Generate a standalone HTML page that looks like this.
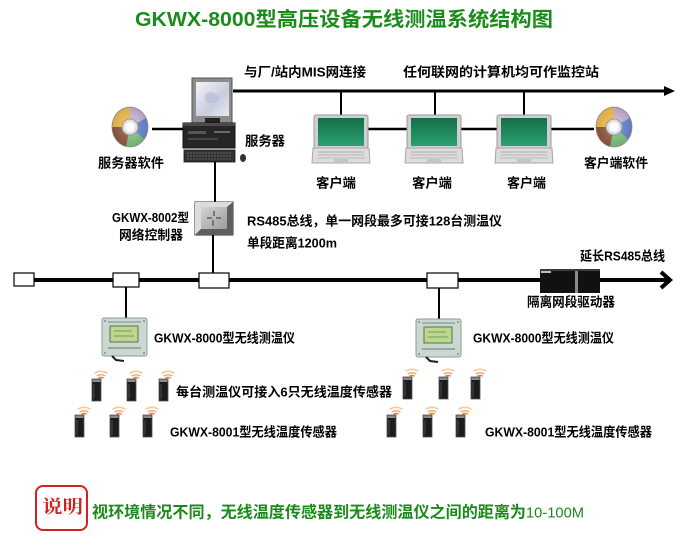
<!DOCTYPE html>
<html><head><meta charset="utf-8"><style>
html,body{margin:0;padding:0;background:#fff;}
svg{display:block;}
text{font-family:"Liberation Sans","Noto Sans CJK SC",sans-serif;font-weight:bold;dominant-baseline:central;}
</style></head><body>
<svg width="686" height="547" viewBox="0 0 686 547" xmlns="http://www.w3.org/2000/svg">
<defs>
  <radialGradient id="cdg" cx="50%" cy="50%" r="50%">
    <stop offset="0" stop-color="#ffffff"/>
    <stop offset="0.5" stop-color="#d8d8d8"/>
    <stop offset="1" stop-color="#9a9a9a"/>
  </radialGradient>
  <linearGradient id="scr" x1="0" y1="0" x2="0" y2="1">
    <stop offset="0" stop-color="#156f49"/>
    <stop offset="1" stop-color="#2aa070"/>
  </linearGradient>
  <linearGradient id="mon" x1="0" y1="0" x2="1" y2="1">
    <stop offset="0" stop-color="#f4f4f8"/>
    <stop offset="0.6" stop-color="#c8cce0"/>
    <stop offset="1" stop-color="#e8eaf2"/>
  </linearGradient>
  <linearGradient id="ctl" x1="0" y1="0" x2="1" y2="1">
    <stop offset="0" stop-color="#d4d4d4"/>
    <stop offset="1" stop-color="#9c9c9c"/>
  </linearGradient>
  <g id="cd">
    <ellipse cx="0" cy="0" rx="18" ry="20" fill="url(#cdg)"/>
    <path d="M0,0 L-18,0 A18,20 0 0 1 0,-20 Z" fill="#f0b030" opacity="0.75"/>
    <path d="M0,0 L0,-20 A18,20 0 0 1 16,-9 Z" fill="#c0a0d0" opacity="0.6"/>
    <path d="M0,0 L16,-9 A18,20 0 0 1 14,12 Z" fill="#4a70c8" opacity="0.75"/>
    <path d="M0,0 L14,12 A18,20 0 0 1 -4,19.5 Z" fill="#60b860" opacity="0.7"/>
    <path d="M0,0 L-4,19.5 A18,20 0 0 1 -18,0 Z" fill="#7a3010" opacity="0.7"/>
    <ellipse cx="0" cy="0" rx="18" ry="20" fill="none" stroke="#888" stroke-width="0.8"/>
    <circle cx="0" cy="0" r="8" fill="#e0e0e0" stroke="#999" stroke-width="1"/>
    <circle cx="0" cy="0" r="5" fill="#fff"/>
  </g>
  <g id="laptop">
    <rect x="0" y="0" width="54" height="33" rx="2" fill="#cfcfcf" stroke="#9a9a9a" stroke-width="1"/>
    <rect x="4" y="3" width="46" height="28" fill="url(#scr)"/>
    <path d="M-1,33 L55,33 L56,48 L-2,48 Z" fill="#dcdcdc" stroke="#a8a8a8" stroke-width="1"/>
    <line x1="4" y1="37" x2="50" y2="37" stroke="#b0b0b0" stroke-width="1"/>
    <line x1="4" y1="40" x2="50" y2="40" stroke="#b8b8b8" stroke-width="1"/>
    <line x1="3" y1="43" x2="51" y2="43" stroke="#bcbcbc" stroke-width="1"/>
    <rect x="20" y="44" width="14" height="3" fill="#c4c4c4"/>
  </g>
  <g id="sensor">
    <path d="M2.6,-5.6 A11,11 0 0 1 15.4,-5.6" fill="none" stroke="#f4caa0" stroke-width="1.6"/>
    <path d="M4.7,-3 A8,8 0 0 1 13.3,-3" fill="none" stroke="#ecae70" stroke-width="1.6"/>
    <path d="M6.4,-0.8 A5,5 0 0 1 11.6,-0.8" fill="none" stroke="#e08a30" stroke-width="1.6"/>
    <rect x="0" y="0" width="9" height="22" fill="#1c1c1c" stroke="#555" stroke-width="0.8"/>
    <rect x="0.5" y="0.5" width="8" height="2.5" fill="#8a8a8a"/>
    <line x1="2" y1="5" x2="2" y2="20" stroke="#4a4a4a" stroke-width="1"/>
  </g>
  <g id="device">
    <rect x="0" y="0" width="45" height="38" rx="2" fill="#cbd8cf" stroke="#8aa092" stroke-width="1"/>
    <line x1="6" y1="4" x2="39" y2="4" stroke="#8a9a90" stroke-width="1.2"/>
    <rect x="8" y="8" width="28" height="16" fill="#bcd88c" stroke="#55705a" stroke-width="1"/>
    <line x1="12" y1="13" x2="30" y2="13" stroke="#7a9a60" stroke-width="1"/>
    <line x1="12" y1="18" x2="32" y2="18" stroke="#7a9a60" stroke-width="1"/>
    <line x1="6" y1="30" x2="39" y2="30" stroke="#7a8a80" stroke-width="1.2"/>
    <circle cx="3" cy="3" r="1" fill="#889"/>
    <circle cx="42" cy="3" r="1" fill="#889"/>
    <circle cx="3" cy="35" r="1" fill="#889"/>
    <circle cx="42" cy="35" r="1" fill="#889"/>
    <path d="M10,38 L14,42 L22,43" fill="none" stroke="#222" stroke-width="2"/>
  </g>
</defs>

<!-- Title -->
<text x="135" y="20" font-size="20" fill="#1b8c1b" textLength="418" lengthAdjust="spacingAndGlyphs">GKWX-8000型高压设备无线测温系统结构图</text>

<!-- top network line -->
<line x1="233" y1="91" x2="666" y2="91" stroke="#000" stroke-width="3"/>
<polygon points="675,91 664,86 664,96" fill="#000"/>
<line x1="341" y1="91" x2="341" y2="115" stroke="#000" stroke-width="2"/>
<line x1="435" y1="91" x2="435" y2="115" stroke="#000" stroke-width="2"/>
<line x1="524" y1="91" x2="524" y2="115" stroke="#000" stroke-width="2"/>
<line x1="368" y1="129" x2="407" y2="129" stroke="#000" stroke-width="2.5"/>
<line x1="460" y1="129" x2="498" y2="129" stroke="#000" stroke-width="2.5"/>
<line x1="551" y1="129" x2="594" y2="129" stroke="#000" stroke-width="2.5"/>
<line x1="152" y1="129" x2="183" y2="129" stroke="#000" stroke-width="2.5"/>

<text x="244" y="72" font-size="13" fill="#000" textLength="122" lengthAdjust="spacingAndGlyphs">与厂/站内MIS网连接</text>
<text x="403" y="72" font-size="13" fill="#000" textLength="196" lengthAdjust="spacingAndGlyphs">任何联网的计算机均可作监控站</text>

<!-- CDs -->
<use href="#cd" x="130" y="127"/>
<use href="#cd" x="614" y="127"/>
<text x="98" y="163" font-size="13" fill="#000" textLength="66" lengthAdjust="spacingAndGlyphs">服务器软件</text>
<text x="584" y="163" font-size="13" fill="#000" textLength="64" lengthAdjust="spacingAndGlyphs">客户端软件</text>

<!-- Server -->
<rect x="192" y="78" width="40" height="45" fill="#8c8c8c" stroke="#555" stroke-width="1"/>
<rect x="196" y="82" width="33" height="34" fill="url(#mon)"/>
<path d="M205,95 Q212,88 220,98 Q214,106 206,102 Z" fill="#b8bcd4" opacity="0.7"/>
<rect x="205" y="118" width="15" height="8" fill="#222"/>
<rect x="183" y="123" width="52" height="25" fill="#262626" stroke="#111" stroke-width="1"/>
<rect x="183" y="123" width="52" height="3" fill="#4a4a4a"/>
<rect x="188" y="131" width="18" height="3" fill="#555"/>
<rect x="188" y="138" width="30" height="2" fill="#444"/>
<rect x="214" y="131" width="16" height="2" fill="#6a6a6a"/>
<rect x="184" y="150" width="51" height="12" fill="#333" stroke="#111" stroke-width="0.8"/>
<line x1="187" y1="153" x2="232" y2="153" stroke="#666" stroke-width="1" stroke-dasharray="2,1"/>
<line x1="187" y1="156" x2="232" y2="156" stroke="#666" stroke-width="1" stroke-dasharray="2,1"/>
<line x1="187" y1="159" x2="232" y2="159" stroke="#5a5a5a" stroke-width="1" stroke-dasharray="2,1"/>
<ellipse cx="243" cy="158" rx="3" ry="4" fill="#333"/>
<text x="245" y="141" font-size="13" fill="#000" textLength="40" lengthAdjust="spacingAndGlyphs">服务器</text>

<!-- Laptops -->
<use href="#laptop" x="314" y="115"/>
<use href="#laptop" x="407" y="115"/>
<use href="#laptop" x="497" y="115"/>
<text x="316" y="183" font-size="13" fill="#000" textLength="40" lengthAdjust="spacingAndGlyphs">客户端</text>
<text x="412" y="183" font-size="13" fill="#000" textLength="40" lengthAdjust="spacingAndGlyphs">客户端</text>
<text x="507" y="183" font-size="13" fill="#000" textLength="39" lengthAdjust="spacingAndGlyphs">客户端</text>

<!-- server to controller -->
<line x1="215" y1="162" x2="215" y2="202" stroke="#000" stroke-width="2"/>

<!-- Controller -->
<rect x="195" y="202" width="38" height="33" fill="#8a8a8a" stroke="#333" stroke-width="1"/>
<polygon points="195,202 233,202 227,207 201,207 201,229 195,235" fill="#dcdcdc"/>
<polygon points="233,202 233,235 195,235 201,229 227,229 227,207" fill="#5e5e5e"/>
<rect x="201" y="207" width="26" height="22" fill="url(#ctl)"/>
<line x1="207" y1="218" x2="212" y2="218" stroke="#333" stroke-width="1"/>
<line x1="216" y1="218" x2="221" y2="218" stroke="#333" stroke-width="1"/>
<line x1="214" y1="211" x2="214" y2="216" stroke="#333" stroke-width="1"/>
<line x1="213" y1="220" x2="213" y2="226" stroke="#333" stroke-width="1"/>
<text x="112" y="218" font-size="12.5" fill="#000" textLength="77" lengthAdjust="spacingAndGlyphs">GKWX-8002型</text>
<text x="119" y="235" font-size="13" fill="#000" textLength="64" lengthAdjust="spacingAndGlyphs">网络控制器</text>
<text x="247" y="221" font-size="13" fill="#000" textLength="255" lengthAdjust="spacingAndGlyphs">RS485总线，单一网段最多可接128台测温仪</text>
<text x="247" y="243" font-size="13" fill="#000" textLength="90" lengthAdjust="spacingAndGlyphs">单段距离1200m</text>
<line x1="213" y1="235" x2="213" y2="273" stroke="#000" stroke-width="2"/>

<!-- Bus -->
<line x1="30" y1="280" x2="667" y2="280" stroke="#000" stroke-width="4"/>
<polyline points="661,272 670,280 661,288" fill="none" stroke="#000" stroke-width="4" stroke-linejoin="miter"/>
<rect x="14" y="273" width="20" height="13" fill="#fff" stroke="#000" stroke-width="1.2"/>
<rect x="113" y="273" width="26" height="14" fill="#fff" stroke="#000" stroke-width="1.2"/>
<rect x="199" y="273" width="30" height="15" fill="#fff" stroke="#000" stroke-width="1.2"/>
<rect x="427" y="273" width="31" height="15" fill="#fff" stroke="#000" stroke-width="1.2"/>

<!-- Isolation driver -->
<rect x="540" y="269" width="60" height="24" fill="#111"/>
<rect x="541" y="270" width="10" height="3" fill="#bbb"/>
<rect x="575" y="269" width="3" height="24" fill="#8a8a8a"/>
<rect x="540" y="269" width="60" height="2" fill="#3a3a3a"/>
<text x="580" y="256" font-size="13" fill="#000" textLength="85" lengthAdjust="spacingAndGlyphs">延长RS485总线</text>
<text x="527" y="302" font-size="13" fill="#000" textLength="88" lengthAdjust="spacingAndGlyphs">隔离网段驱动器</text>

<!-- device drops -->
<line x1="126" y1="287" x2="126" y2="318" stroke="#000" stroke-width="2"/>
<line x1="439" y1="288" x2="439" y2="320" stroke="#000" stroke-width="2"/>

<!-- Devices -->
<use href="#device" x="102" y="318"/>
<use href="#device" x="416" y="319"/>
<text x="154" y="338" font-size="13" fill="#000" textLength="141" lengthAdjust="spacingAndGlyphs">GKWX-8000型无线测温仪</text>
<text x="473" y="338" font-size="13" fill="#000" textLength="141" lengthAdjust="spacingAndGlyphs">GKWX-8000型无线测温仪</text>

<!-- Sensors group 1 -->
<use href="#sensor" x="92" y="379"/>
<use href="#sensor" x="127" y="379"/>
<use href="#sensor" x="159" y="379"/>
<use href="#sensor" x="75" y="415"/>
<use href="#sensor" x="110" y="415"/>
<use href="#sensor" x="143" y="415"/>
<!-- Sensors group 2 -->
<use href="#sensor" x="403" y="377"/>
<use href="#sensor" x="439" y="377"/>
<use href="#sensor" x="471" y="377"/>
<use href="#sensor" x="387" y="415"/>
<use href="#sensor" x="423" y="415"/>
<use href="#sensor" x="456" y="415"/>

<text x="176" y="392" font-size="13" fill="#000" textLength="216" lengthAdjust="spacingAndGlyphs">每台测温仪可接入6只无线温度传感器</text>
<text x="170" y="432" font-size="13" fill="#000" textLength="167" lengthAdjust="spacingAndGlyphs">GKWX-8001型无线温度传感器</text>
<text x="485" y="432" font-size="13" fill="#000" textLength="167" lengthAdjust="spacingAndGlyphs">GKWX-8001型无线温度传感器</text>

<!-- Note -->
<rect x="36" y="486" width="51" height="44" rx="7" fill="#fff" stroke="#d42020" stroke-width="2"/>
<text x="42" y="507" font-size="18" fill="#d42020" style="font-weight:bold;font-family:'Liberation Serif','Noto Serif CJK SC',serif;" textLength="41" lengthAdjust="spacingAndGlyphs">说明</text>
<text x="92" y="513" font-size="16" fill="#1b8a1b" textLength="434" lengthAdjust="spacingAndGlyphs">视环境情况不同，无线温度传感器到无线测温仪之间的距离为</text>
<text x="526" y="513" font-size="15" fill="#1b8a1b" style="font-weight:normal;" textLength="58" lengthAdjust="spacingAndGlyphs">10-100M</text>
</svg>
</body></html>
